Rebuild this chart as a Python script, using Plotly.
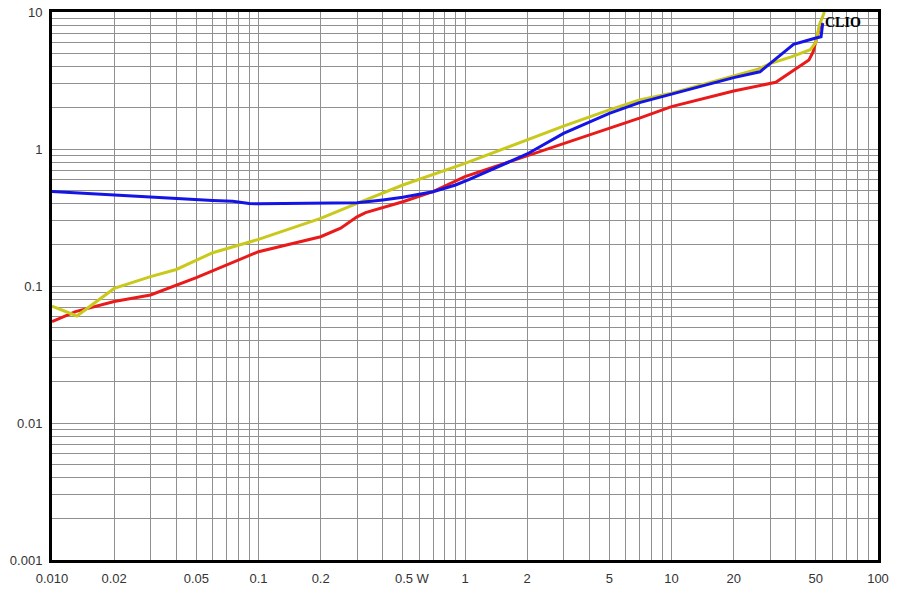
import plotly.graph_objects as go

# ---- data ----
blue_x = [0.01, 0.02, 0.03, 0.06, 0.075, 0.09, 0.1, 0.2, 0.3, 0.4, 0.5, 0.7, 0.9, 1.05, 2, 3, 5, 7, 10, 20, 26.8, 39, 49.5, 53, 54]
blue_y = [0.49, 0.46, 0.447, 0.42, 0.415, 0.40, 0.398, 0.40, 0.405, 0.425, 0.444, 0.488, 0.546, 0.60, 0.92, 1.30, 1.82, 2.18, 2.52, 3.32, 3.66, 5.8, 6.43, 6.6, 8.3]

yellow_x = [0.01, 0.0132, 0.02, 0.03, 0.04, 0.05, 0.06, 0.1, 0.2, 0.3, 0.5, 1, 2, 3, 5, 7, 10, 20, 26, 30, 38, 47, 50, 52, 55]
yellow_y = [0.0714, 0.0604, 0.096, 0.117, 0.132, 0.155, 0.175, 0.219, 0.312, 0.401, 0.546, 0.786, 1.16, 1.47, 1.93, 2.28, 2.55, 3.4, 3.8, 4.2, 4.7, 5.3, 6.0, 8.0, 10]

red_x = [0.01, 0.013, 0.02, 0.03, 0.05, 0.1, 0.2, 0.25, 0.3, 0.33, 0.5, 0.7, 1, 2, 3, 5, 7, 10, 20, 32, 46.3, 48.5, 50.6, 53]
red_y = [0.055, 0.065, 0.077, 0.086, 0.115, 0.178, 0.229, 0.264, 0.32, 0.343, 0.412, 0.488, 0.628, 0.89, 1.1, 1.42, 1.68, 2.04, 2.65, 3.07, 4.46, 5.1, 6.5, 8.5]

x_label_vals = [0.01, 0.02, 0.05, 0.1, 0.2, 0.5, 1, 2, 5, 10, 20, 50, 100]
x_label_text = ["0.010", "0.02", "0.05", "0.1", "0.2", "\u00a0\u00a0\u00a0\u00a0\u00a00.5 W", "1", "2", "5", "10", "20", "50", "100"]
y_label_vals = [0.001, 0.01, 0.1, 1, 10]
y_label_text = ["0.001", "0.01", "0.1", "1", "10"]

# gridline positions: 1..9 multiples in each decade
def grid_vals(lo_exp, hi_exp):
    vals = []
    for e in range(lo_exp, hi_exp):
        for m in range(1, 10):
            vals.append(round(m * 10 ** e, 10))
    vals.append(round(10 ** hi_exp, 10))
    return vals

def grid_text(vals, lab_vals, lab_text):
    out = []
    for v in vals:
        t = ""
        for lv, lt in zip(lab_vals, lab_text):
            if abs(v - lv) < 1e-9 * max(1, lv):
                t = lt
        out.append(t)
    return out

xg = grid_vals(-2, 2)
yg = grid_vals(-3, 1)

fig = go.Figure()
fig.add_trace(go.Scatter(x=red_x, y=red_y, mode="lines",
                         line=dict(color="#ea1a1a", width=3), showlegend=False))
fig.add_trace(go.Scatter(x=yellow_x, y=yellow_y, mode="lines",
                         line=dict(color="#c9c91c", width=3), showlegend=False))
fig.add_trace(go.Scatter(x=blue_x, y=blue_y, mode="lines",
                         line=dict(color="#1414e6", width=3), showlegend=False))

fig.add_annotation(text="<b>CLIO</b>", xref="paper", yref="paper",
                   x=0.9335, y=0.98, xanchor="left", yanchor="middle",
                   showarrow=False, font=dict(family="Liberation Serif, Times New Roman, serif", size=14, color="black"))

axis_common = dict(
    showgrid=True, gridcolor="#909090", gridwidth=1,
    showline=True, linecolor="black", linewidth=3, mirror=True,
    zeroline=False, ticks="", automargin=False, ticklabeloverflow="allow",
    tickfont=dict(family="Liberation Sans, Arial, sans-serif", size=13, color="#333333"),
)

fig.update_xaxes(type="log", range=[-2, 2], tickmode="array",
                 tickvals=xg, ticktext=grid_text(xg, x_label_vals, x_label_text),
                 tickangle=0, ticklabelstandoff=4, **axis_common)
fig.update_yaxes(type="log", range=[-3, 1], tickmode="array",
                 tickvals=yg, ticktext=grid_text(yg, y_label_vals, y_label_text),
                 ticklabelstandoff=4, **axis_common)

fig.update_layout(
    width=900, height=590,
    margin=dict(l=52, r=22, t=12, b=30),
    paper_bgcolor="white", plot_bgcolor="white",
    showlegend=False,
)

# remove the browser's default 8px body margin so the figure sits at the window origin
fig.write_html("out.html",
               config={"displayModeBar": False},
               post_script="document.body.style.margin='0';document.body.style.overflow='hidden';")
